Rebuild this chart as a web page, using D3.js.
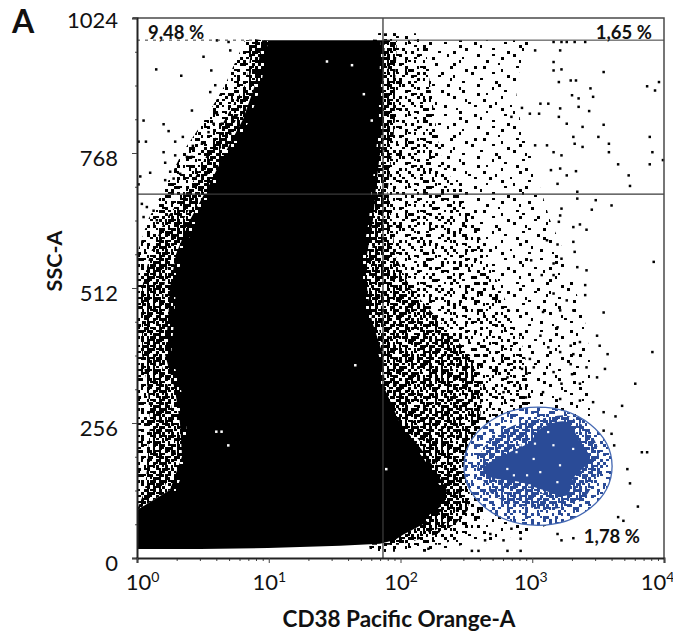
<!DOCTYPE html>
<html>
<head>
<meta charset="utf-8">
<script src="https://cdn.jsdelivr.net/npm/d3@7"></script>
<style>
  body { margin: 0; background: #fff; }
  svg { display: block; }
  text { font-family: Lato, "Open Sans", sans-serif; fill: #111; }
</style>
</head>
<body>
<div id="chart"></div>
<script>
// all positions along CD38 are kept as log10 of the value, SSC-A as linear channel
const sscTicks = [0, 256, 512, 768, 1024];
const sscMinor = [64, 128, 192, 320, 384, 448, 576, 640, 704, 832, 896, 960];
const cd38Ticks = [1, 10, 100, 1000, 10000];
const cd38Labels = ["0", "1", "2", "3", "4"];

// edges of the populations, one value per row of sscRows
const sscRows   = [982, 897, 832, 768, 703, 641, 576, 512, 449, 385, 320, 256, 193, 129, 91, 64, 44, 25];
const coreLeft  = [.949, .896, .805, .668, .539, .402, .296, .25, .235, .213, .288, .326, .342, .25, 0, 0, 0, 0];
const coreRight = [1.882, 1.867, 1.867, 1.844, 1.814, 1.791, 1.746, 1.746, 1.784, 1.867, 1.882, 1.996, 2.201, 2.353, 2.323, 2.171, 2.019, 1.769];
const leftDense = [.918, .82, .668, .539, .402, .213, .099, .038, .038, .038, .083, .099, .083, .061, 0, 0, 0, 0];
const leftThin  = [.82, .668, .516, .342, .213, .083, 0, 0, 0, 0, 0, 0, 0, 0, 0, 0, 0, 0];
const rightDense = [1.935, 1.935, 1.92, 1.905, 1.898, 1.935, 1.958, 2.072, 2.3, 2.527, 2.619, 2.603, 2.527, 2.527, 2.512, 2.414, 2.262, 1.996];
const rightMid   = [2.186, 2.224, 2.262, 2.3, 2.414, 2.565, 2.641, 2.755, 2.869, 2.945, 2.983, 2.983, 2.907, 2.679, 2.679, 2.603, 2.527, 2.3];
const rightThin  = [2.983, 2.869, 2.907, 2.983, 3.059, 3.135, 3.249, 3.324, 3.4, 3.438, 3.438, 3.438, 3.438, 3.438, 3.438, 3.135, 2.907, 2.603];

// lower edge of the black population
const bottomExp = [0, .478, .994, 1.541, 1.844, 1.958];
const bottomSsc = [17, 17, 19, 23, 27, 34];

// CD38+ gate (blue)
const gateCentre = [3.044, 174];
const gateRadius = [.562, 112];
const blueCoreExp = [2.626, 2.831, 2.983, 3.059, 3.264, 3.362, 3.438, 3.309, 3.264, 3.059, 2.907, 2.679];
const blueCoreSsc = [169, 201, 220, 245, 258, 220, 188, 150, 119, 131, 144, 154];
const blueMidExp = [2.603, 2.808, 3.059, 3.309, 3.491, 3.491, 3.385, 3.157, 2.907, 2.679];
const blueMidSsc = [195, 245, 264, 264, 214, 163, 112, 93, 100, 125];
const blueHoles = [[3.16,214],[3.01,188],[2.88,201],[3.06,163],[2.96,157],[3.21,176],[3.31,207],[2.86,157],[3.12,239],[3.02,217],[2.81,169],[3.19,144],[2.98,138],[3.08,125],[2.91,214]];

// quadrant lines
const gateX = 1.867;
const gateY = 690;
const clipSsc = 982;

// single events
const looseEvents = [
  [3.16,941],[3.16,925],[3.22,927],[3.20,903],[3.29,906],[3.33,906],[3.44,891],[3.54,922],[3.87,895],[3.93,887],
  [3.96,903],[3.30,878],[3.35,872],[3.46,875],[3.06,862],[3.12,862],[3.21,853],[2.92,854],[2.84,837],[2.98,843],
  [3.05,843],[3.20,837],[3.35,856],[3.43,848],[3.26,824],[3.38,818],[3.54,822],[3.31,799],[3.50,799],[3.89,799],
  [3.32,786],[3.38,780],[3.58,786],[3.58,770],[3.91,770],[3.99,755],[3.65,747],[3.89,747],[3.73,726],[3.74,706],
  [3.11,783],[3.02,783],[3.16,770],[3.22,764],[3.14,736],[3.21,739],[3.26,726],[3.33,734],[3.19,710],[3.34,695],
  [3.34,682],[3.48,679],[3.45,661],[3.60,669],[3.22,663],[3.21,650],[3.20,638],[3.31,628],[3.36,633],[3.41,623],
  [3.11,603],[3.19,595],[3.31,600],[3.32,581],[2.99,565],[3.16,559],[3.22,568],[3.34,552],[3.41,546],[3.92,562],
  [3.16,537],[3.07,537],[3.40,518],[3.40,499],[3.16,502],[3.26,489],[3.31,470],[3.54,466],[3.08,467],[3.21,470],
  [3.16,979],[3.22,979],[3.26,979],[3.32,979],[3.40,979],[3.02,963],[3.21,963],
  [3.57,387],[3.91,391],[3.51,403],[3.29,368],[3.41,362],[3.55,359],[3.78,331],[3.49,343],[3.36,331],[3.22,331],
  [3.30,349],[3.16,353],[3.01,362],[3.46,296],[3.68,289],[3.63,269],[3.54,277],[3.83,201],[3.87,201],[3.72,169],
  [3.74,142],[3.80,98],[3.69,71],[3.65,78],[3.19,46],[3.22,34],[3.31,38],[2.84,56],[2.91,37],[2.78,34],
  [2.64,34],[2.54,14],[2.59,14],[2.68,46],[2.91,14],[2.81,14],[2.21,18],[2.98,378],[3.12,400],[3.06,422],
  [3.19,438],[3.31,387],[3.36,410],[3.49,422],[3.29,403],[3.21,391],[2.92,359],[2.81,343],[2.78,315],[2.95,305],
  [3.08,315],[3.21,302],[3.36,299],[3.54,242],[3.60,236],[3.62,214],
  [.144,927],[.334,915],[.562,925],[.503,951],[.706,963],[.693,979],[.605,982],[.048,830],[.20,823],[.238,810],
  [.346,799],[.415,849],[.554,884],[.592,897],[.01,790],[.066,790],[.288,790],[.422,782],[.491,786],[.20,770],
  [.288,764],[.212,750],[.098,731],[.023,724],[.25,733],[.212,717],[.01,709],[.377,761],[.415,761],[.326,729],
  [.276,720],[.124,659],[.073,666],[.035,672],[.149,641],[.048,647],[.605,843],[.579,824],[.642,824],[.541,808],
  [.706,805],[.731,837]
];
// holes left inside the black population
const emptySpots = [[.691,214],[.60,240],[.64,240],[1.63,935],[1.44,942],[1.655,366],[1.89,169],[1.72,880],[1.78,830]];

// hand-made stipple: a cell is inked when its digit is below the level
const stippleTile = [
  "71940682537190468250371846925038",
  "28563917402865139704926035718462",
  "04817265938041726593180749263571",
  "95362048171958304172654938017246",
  "36794105826347910586203871549620",
  "81250739641285067394816250937418",
  "49618372059476128350749163028597",
  "17035984621703958426305987416230",
  "62847130596281403759162048359761",
  "30592648173950726148739516204879",
  "85176093428617395082461738590342",
  "24908517360429851673095284617105",
  "79361240895731260489513607928436",
  "16085793241068397215842930176589",
  "53729461087954102638076459321708",
  "08416835792380675941328160547923",
  "97250316846192038572946731805164",
  "41683972505746829103657028491376",
  "65910287433019574682103895762450",
  "12847560992863140735869241037586",
  "83056491271540928367412570986213",
  "37629105846795361028593064178349",
  "50198742367201847596230819465702",
  "96432580119638025714748352601937"
];

const width = 673, height = 632;
const margin = { top: 18, right: 9, bottom: 74, left: 137 };
const black = "#000", blue = "#2a4b97";
const cell = 3;

const svg = d3.select("#chart").append("svg")
  .attr("width", width)
  .attr("height", height);

const x = d3.scaleLog().domain([1, 10000]).range([margin.left, width - margin.right]);
const y = d3.scaleLinear().domain([0, 1024]).range([height - margin.bottom, margin.top]);
const px = e => x(Math.pow(10, e));

const defs = svg.append("defs");
function stipple(id, level, color) {
  const pat = defs.append("pattern")
    .attr("id", id)
    .attr("width", 32 * cell)
    .attr("height", 24 * cell)
    .attr("patternUnits", "userSpaceOnUse");
  stippleTile.forEach((row, r) => {
    [...row].forEach((c, k) => {
      if (+c < level) {
        pat.append("rect").attr("x", k * cell).attr("y", r * cell)
          .attr("width", (k + r) % 3 === 0 ? cell - 1 : cell)
          .attr("height", (k + 2 * r) % 4 === 0 ? cell - 1 : cell)
          .attr("fill", color);
      }
    });
  });
}
stipple("blackThin", 1, black);
stipple("blackMid", 3, black);
stipple("blackDense", 7, black);
stipple("blackLeft", 8, black);
stipple("blackThinLeft", 4, black);
stipple("whiteSpeck", 1, "#fff");
stipple("blueOuter", 4, blue);
stipple("blueMid", 8, blue);

const plot = svg.append("g");

const bandRow = (a, b) => d3.area()
  .x0((s, i) => px(a[i]))
  .x1((s, i) => px(b[i]))
  .y(s => y(s))(sscRows);

// fringes, thin to dense; the strokes break up their outer edges
plot.append("path").attr("d", bandRow(coreRight, rightThin)).attr("fill", "url(#blackThin)");
plot.append("path").attr("d", bandRow(coreRight, rightMid)).attr("fill", "url(#blackMid)")
  .attr("stroke", "url(#blackThin)").attr("stroke-width", 14);
plot.append("path").attr("d", bandRow(coreRight, rightDense)).attr("fill", "url(#blackDense)")
  .attr("stroke", "url(#blackMid)").attr("stroke-width", 14);
plot.append("path").attr("d", bandRow(leftThin, coreLeft)).attr("fill", "url(#blackThinLeft)");
plot.append("path").attr("d", bandRow(leftDense, coreLeft)).attr("fill", "url(#blackLeft)");

// black population
const line = d3.line();
const leftEdge = sscRows.map((s, i) => [px(coreLeft[i]), y(s)]);
const rightEdge = sscRows.map((s, i) => [px(coreRight[i]), y(s)]);
const corePoints = [
  ...leftEdge,
  ...bottomExp.map((e, i) => [px(e), y(bottomSsc[i])]),
  ...rightEdge.filter((p, i) => sscRows[i] >= 44).reverse()
];
plot.append("path").attr("d", line(leftEdge.slice(0, 14)))
  .attr("fill", "none").attr("stroke", "url(#blackLeft)").attr("stroke-width", 18);
plot.append("path").attr("d", line(rightEdge.slice(0, 16)))
  .attr("fill", "none").attr("stroke", "url(#blackLeft)").attr("stroke-width", 24);
plot.append("path").attr("d", line(corePoints) + "Z").attr("fill", black);
plot.append("path").attr("d", line(leftEdge.slice(0, 14)))
  .attr("fill", "none").attr("stroke", "url(#whiteSpeck)").attr("stroke-width", 12);
plot.append("path").attr("d", line(rightEdge.slice(0, 16)))
  .attr("fill", "none").attr("stroke", "url(#whiteSpeck)").attr("stroke-width", 8);

plot.selectAll(".event")
  .data(looseEvents)
  .enter()
  .append("rect")
  .attr("class", "event")
  .attr("x", d => px(d[0]) - 1)
  .attr("y", d => y(d[1]) - 1)
  .attr("width", 2.5)
  .attr("height", 2.5)
  .attr("fill", black);

plot.selectAll(".hole")
  .data(emptySpots)
  .enter()
  .append("rect")
  .attr("class", "hole")
  .attr("x", d => px(d[0]) - 1)
  .attr("y", d => y(d[1]) - 1)
  .attr("width", 2.5)
  .attr("height", 2.5)
  .attr("fill", "#fff");

// gate
const gateCx = px(gateCentre[0]), gateCy = y(gateCentre[1]);
const gateRx = px(gateCentre[0] + gateRadius[0]) - gateCx;
const gateRy = gateCy - y(gateCentre[1] + gateRadius[1]);
const ellipse = (fill) => plot.append("ellipse")
  .attr("cx", gateCx).attr("cy", gateCy)
  .attr("rx", gateRx).attr("ry", gateRy)
  .attr("fill", fill);
ellipse("#fff");
ellipse("url(#blueOuter)");
const blob = (ex, sy) => line.curve(d3.curveCatmullRomClosed)(ex.map((e, i) => [px(e), y(sy[i])]));
plot.append("path").attr("d", blob(blueMidExp, blueMidSsc)).attr("fill", "url(#blueMid)");
plot.append("path").attr("d", blob(blueCoreExp, blueCoreSsc)).attr("fill", blue)
  .attr("stroke", "url(#blueMid)").attr("stroke-width", 12);
plot.selectAll(".blue-hole")
  .data(blueHoles)
  .enter()
  .append("rect")
  .attr("class", "blue-hole")
  .attr("x", d => px(d[0]) - 1)
  .attr("y", d => y(d[1]) - 1)
  .attr("width", 2.2)
  .attr("height", 2.2)
  .attr("fill", "#fff");
ellipse("none").attr("stroke", "#4569b3").attr("stroke-width", 1.3);
line.curve(d3.curveLinear);

// quadrant lines
const rules = svg.append("g").attr("stroke", "#3a3a3a").attr("fill", "none");
rules.append("line")
  .attr("x1", px(gateX)).attr("x2", px(gateX))
  .attr("y1", y(1024)).attr("y2", y(0))
  .attr("stroke-width", 1.3);
rules.append("line")
  .attr("x1", x(1)).attr("x2", x(10000))
  .attr("y1", y(gateY)).attr("y2", y(gateY))
  .attr("stroke-width", 1.3);
rules.append("line")
  .attr("x1", px(gateX)).attr("x2", x(10000))
  .attr("y1", y(clipSsc)).attr("y2", y(clipSsc))
  .attr("stroke-width", 1);
rules.append("line")
  .attr("x1", x(1)).attr("x2", px(.9))
  .attr("y1", y(clipSsc)).attr("y2", y(clipSsc))
  .attr("stroke-dasharray", "3 5")
  .attr("stroke-width", 1);

// frame
svg.append("path")
  .attr("d", `M${margin.left - 4},${y(1024)}H${x(10000)}V${y(0)}`)
  .attr("fill", "none")
  .attr("stroke", "#4a4a4a")
  .attr("stroke-width", 1.5);

// axes
const cleanAxis = g => g.selectAll(".tick line").attr("stroke", "#444");
svg.append("g")
  .attr("transform", `translate(${margin.left},0)`)
  .call(d3.axisLeft(y).tickValues(sscMinor).tickSize(2).tickFormat(""))
  .call(cleanAxis)
  .call(g => g.select(".domain").remove());
const yAxis = svg.append("g")
  .attr("transform", `translate(${margin.left},0)`)
  .call(d3.axisLeft(y).tickValues(sscTicks).tickFormat(d3.format("d")).tickSizeOuter(0).tickSize(5).tickPadding(14))
  .call(cleanAxis);
yAxis.select(".domain").attr("stroke", "#222").attr("stroke-width", 2);
yAxis.selectAll(".tick text")
  .attr("font-size", 22)
  .attr("fill", "#111")
  .attr("dy", "0.34em")
  .attr("y", d => (d === 1024 ? 2 : 5))
  .style("font-family", "Lato");

const minorValues = [];
cd38Ticks.slice(0, 4).forEach(t => [2, 3, 4, 5, 6, 7, 8, 9].forEach(m => minorValues.push(t * m)));
svg.append("g")
  .attr("transform", `translate(0,${y(0)})`)
  .call(d3.axisBottom(x).tickValues(minorValues).tickSize(3).tickFormat(""))
  .call(cleanAxis)
  .call(g => g.select(".domain").remove());
const xAxis = svg.append("g")
  .attr("transform", `translate(0,${y(0)})`)
  .call(d3.axisBottom(x).tickValues(cd38Ticks).tickSizeOuter(0).tickSize(5).tickFormat(""))
  .call(cleanAxis);
xAxis.select(".domain").attr("stroke", "#222").attr("stroke-width", 2);
xAxis.selectAll(".tick").append("text")
  .attr("y", 32)
  .attr("fill", "#111")
  .attr("text-anchor", "middle")
  .attr("font-size", 22)
  .attr("dx", (d, i) => (i === 0 ? 5 : i === 4 ? -7 : i === 3 ? -2 : 0))
  .each(function (d, i) {
    const t = d3.select(this);
    t.append("tspan").text("10");
    t.append("tspan").attr("font-size", 14).attr("dy", -8).text(cd38Labels[i]);
  });

// titles and labels
svg.append("text")
  .attr("x", 399).attr("y", 627)
  .attr("text-anchor", "middle")
  .attr("font-size", 22.5)
  .attr("font-weight", 700)
  .text("CD38 Pacific Orange-A");
svg.append("text")
  .attr("transform", "translate(62,261) rotate(-90)")
  .attr("text-anchor", "middle")
  .attr("font-size", 21.5)
  .attr("font-weight", 700)
  .text("SSC-A");
svg.append("text")
  .attr("x", 12).attr("y", 33)
  .attr("font-size", 32)
  .attr("font-weight", 700)
  .text("A");

const pctLabels = ["9,48 %", "1,65 %", "1,78 %"];
const pctAnchorExp = [.083, 3.909, 3.818];
const pctAnchorSsc = [984, 984, 28];
pctLabels.forEach((t, i) => {
  svg.append("text")
    .attr("x", px(pctAnchorExp[i]))
    .attr("y", y(pctAnchorSsc[i]))
    .attr("text-anchor", i === 0 ? "start" : "end")
    .attr("font-size", 18.5)
    .attr("font-weight", 700)
    .text(t);
});
</script>
</body>
</html>
